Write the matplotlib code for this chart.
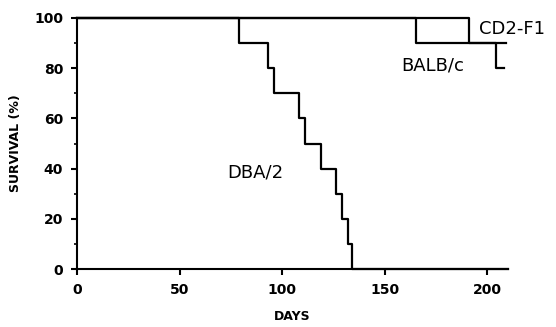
import matplotlib
matplotlib.use('Agg')
import matplotlib.pyplot as plt
from matplotlib.ticker import MultipleLocator

# Kaplan-Meier style survival curves (days, % survival), step after each day
dba_days = [0, 79, 93, 96, 108, 111, 119, 126, 129, 132, 134, 210]
dba_surv = [100, 90, 80, 70, 60, 50, 40, 30, 20, 10, 0, 0]

balb_days = [0, 165, 204, 208]
balb_surv = [100, 90, 80, 80]

cd2_days = [0, 191, 209]
cd2_surv = [100, 90, 90]

x_ticks = [0, 50, 100, 150, 200]
y_ticks = [0, 20, 40, 60, 80, 100]

plt.rcParams['font.family'] = ['DejaVu Sans']


def format_ax(ax):
    ax.set_xlim(0, 210)
    ax.set_ylim(0, 100)
    ax.set_xticks(x_ticks)
    ax.set_yticks(y_ticks)
    ax.yaxis.set_minor_locator(MultipleLocator(10))
    ax.spines['top'].set_color('none')
    ax.spines['right'].set_color('none')
    for side in ['left', 'bottom']:
        ax.spines[side].set_linewidth(1.5)
    ax.tick_params(which='major', direction='out', length=4, width=1.5,
                   labelsize=10, pad=6)
    ax.tick_params(which='minor', direction='out', length=2.5, width=1.2)
    for lab in ax.get_xticklabels() + ax.get_yticklabels():
        lab.set_fontweight('bold')
    ax.set_xlabel('DAYS', fontsize=9, fontweight='bold', labelpad=9)
    ax.set_ylabel('SURVIVAL (%)', fontsize=9, fontweight='bold', labelpad=9)


def main():
    fig = plt.figure(figsize=(5.56, 3.27), dpi=100)
    ax = fig.add_axes([0.1385, 0.177, 0.775, 0.768])
    kw = dict(where='post', color='black', linewidth=1.6, clip_on=False)
    ax.step(dba_days, dba_surv, **kw)
    ax.step(balb_days, balb_surv, **kw)
    ax.step(cd2_days, cd2_surv, **kw)

    ax.text(73, 38.6, 'DBA/2', fontsize=13, va='center', ha='left')
    ax.text(158, 81, 'BALB/c', fontsize=13, va='center', ha='left')
    ax.text(196, 95.6, 'CD2-F1', fontsize=13, va='center', ha='left',
            clip_on=False)
    format_ax(ax)
    plt.savefig('out.png', dpi=100)


if __name__ == '__main__':
    main()
